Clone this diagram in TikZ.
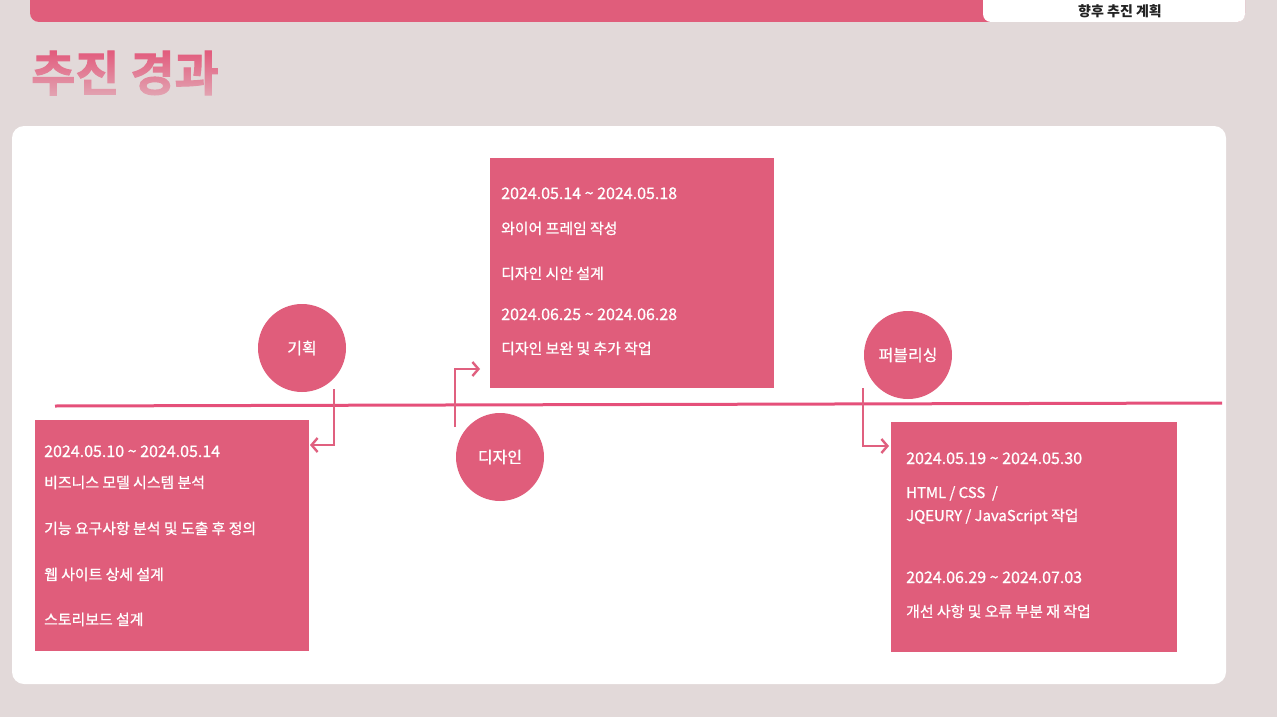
\documentclass[tikz,border=0pt]{standalone}
\usepackage{fontspec}
\setmainfont{Noto Sans CJK KR}
\newfontfamily\medfont{Noto Sans CJK KR}[FakeBold=0.9]
\newfontfamily\heavyfont{Noto Sans CJK KR Bold}[FakeBold=2]
\usetikzlibrary{arrows.meta,fadings}
\definecolor{bgc}{HTML}{E2D9D9}
\definecolor{pinkc}{HTML}{E05D7B}
\definecolor{linec}{HTML}{E5507A}
\definecolor{arrowc}{HTML}{E0607F}
\definecolor{titlec}{HTML}{E35A7C}
\definecolor{tabtext}{HTML}{222222}
\tikzfading[name=titlefade, top color=transparent!100, bottom color=transparent!0]
\tikzset{
  pinkbox/.style={fill=pinkc, draw=none, anchor=north west, inner sep=0pt},
  dot/.style={circle, fill=pinkc, draw=none, minimum size=88pt, inner sep=0pt, text=white, font=\medfont\fontsize{16}{18}\selectfont},
  datetxt/.style={anchor=base west, inner sep=0pt, text=white, font=\medfont\fontsize{16}{18}\selectfont},
  kortxt/.style={anchor=base west, inner sep=0pt, text=white, font=\medfont\fontsize{14.9}{18}\selectfont},
  conn/.style={draw=arrowc, line width=2.6pt, -{Straight Barb[length=6pt,width=14pt,line width=2.4pt]}},
}
\begin{document}
\begin{tikzpicture}[x=1pt,y=-1pt]
\useasboundingbox (0,0) rectangle (1277,717);
\fill[bgc] (0,0) rectangle (1277,717);
% top bar
\fill[pinkc, rounded corners=9pt] (30,-20) rectangle (1245,22);
\fill[white, rounded corners=8pt] (983,-20) rectangle (1245,22);
\node[text=tabtext, font=\fontsize{14}{16}\selectfont\bfseries, inner sep=0pt] (tab) at (1120,11) {향후 추진 계획};
% title
\node[anchor=base west, inner sep=0pt, text=titlec, font=\heavyfont\fontsize{48}{52}\selectfont] (title) at (31,91) {추진 경과};
\fill[bgc, fill opacity=0.65, path fading=titlefade] (26,50) rectangle (235,101);
% card
\fill[white, rounded corners=12pt] (12,126) rectangle (1226,684);
% timeline
\coordinate (tl1) at (55,406);
\coordinate (tl2) at (1222,403);
\draw[linec, line width=3pt] (tl1) -- (tl2);
% boxes
\node[pinkbox, minimum width=274pt, minimum height=231pt] (b1) at (35,420) {};
\node[pinkbox, minimum width=284pt, minimum height=230pt] (b2) at (490,158) {};
\node[pinkbox, minimum width=286pt, minimum height=230pt] (b3) at (891,422) {};
% circles
\node[dot] (c1) at (302,348) {기획};
\node[dot] (c2) at (500,457) {디자인};
\node[dot] (c3) at (908,355) {퍼블리싱};
% connectors
\coordinate (a1s) at (334,389);
\coordinate (a1e) at (310,445);
\draw[conn] (a1s) |- (a1e);
\coordinate (a2s) at (455,427);
\coordinate (a2e) at (480,369);
\draw[conn] (a2s) |- (a2e);
\coordinate (a3s) at (863,388);
\coordinate (a3e) at (889,446);
\draw[conn] (a3s) |- (a3e);
% box 1 text
\node[datetxt] (t11) at (44,457) {2024.05.10 \textasciitilde{} 2024.05.14};
\node[kortxt] (t12) at (44,488) {비즈니스 모델 시스템 분석};
\node[kortxt] (t13) at (44,534) {기능 요구사항 분석 및 도출 후 정의};
\node[kortxt] (t14) at (44,580) {웹 사이트 상세 설계};
\node[kortxt] (t15) at (44,625) {스토리보드 설계};
% box 2 text
\node[datetxt] (t21) at (501,199) {2024.05.14 \textasciitilde{} 2024.05.18};
\node[kortxt] (t22) at (501,234) {와이어 프레임 작성};
\node[kortxt] (t23) at (501,279) {디자인 시안 설계};
\node[datetxt] (t24) at (501,320) {2024.06.25 \textasciitilde{} 2024.06.28};
\node[kortxt] (t25) at (501,354) {디자인 보완 및 추가 작업};
% box 3 text
\node[datetxt] (t31) at (906,464) {2024.05.19 \textasciitilde{} 2024.05.30};
\node[kortxt] (t32) at (906,498) {HTML / CSS \ /};
\node[kortxt] (t33) at (906,521) {JQEURY / JavaScript 작업};
\node[datetxt] (t34) at (906,583) {2024.06.29 \textasciitilde{} 2024.07.03};
\node[kortxt] (t35) at (906,617) {개선 사항 및 오류 부분 재 작업};
\end{tikzpicture}
\end{document}
